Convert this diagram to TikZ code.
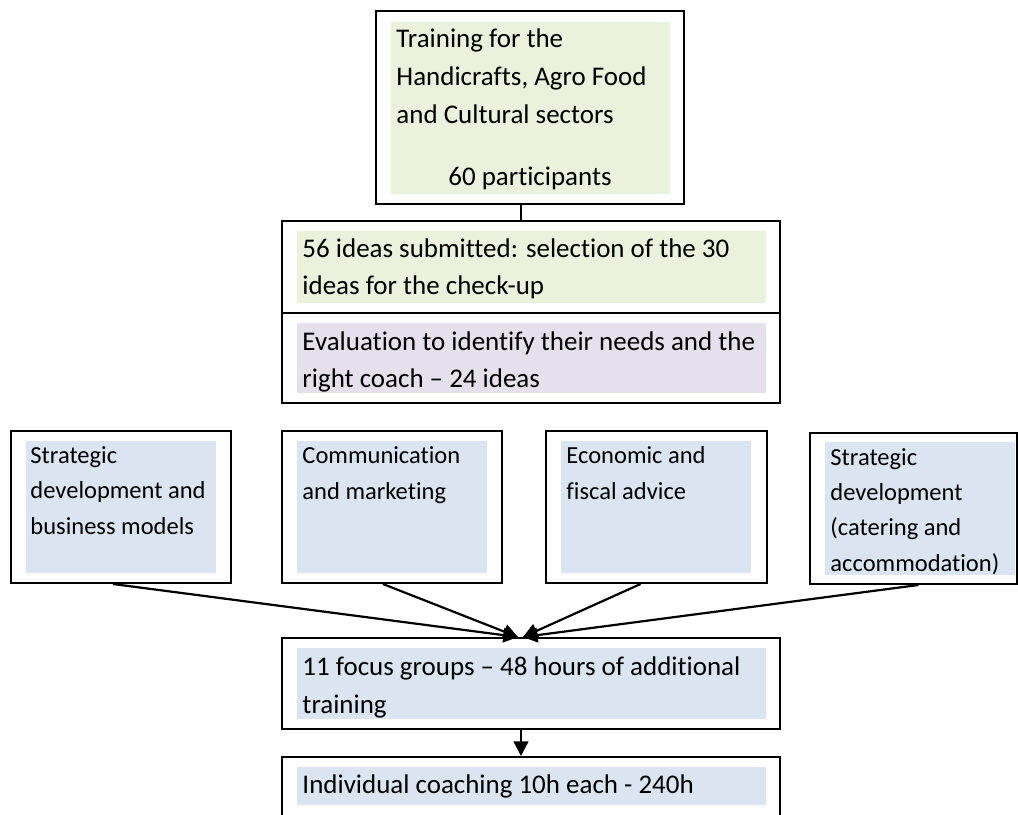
\documentclass[tikz,border=0pt]{standalone}
\usepackage{fontspec}
\setmainfont{Carlito}[RawFeature={-liga,-clig,-calt,-rlig,-dlig}]
\usetikzlibrary{arrows.meta,fit}
\definecolor{paleGreen}{HTML}{EAF1DD}
\definecolor{palePurple}{HTML}{E5E0EC}
\definecolor{paleBlue}{HTML}{DBE5F1}
\begin{document}
\begin{tikzpicture}[x=0.408pt,y=-0.408pt,
  frame/.style={draw,line width=0.8pt,inner sep=0pt,fit={#1}},
  txt/.style={anchor=base west,inner sep=0pt,align=left,font=\fontsize{11}{#1}\selectfont},
  small/.style={anchor=base west,inner sep=0pt,align=left,font=\fontsize{10}{14.3}\selectfont},
  flow/.style={-{Triangle[length=6pt,width=6pt]},line width=0.9pt}]
\useasboundingbox (0,0) rectangle (1018,814);

% Training block (text nodes sit on their last baseline)
\fill[paleGreen] (391,22) rectangle (670,194);
\node[frame={(376,11) (684,204)}] (train) {};
\node[txt=15.5] (trainTxt) at (396,123) {Training for the\\Handicrafts, Agro Food\\and Cultural sectors};
\node[anchor=base,inner sep=0pt,font=\fontsize{11}{15.5}\selectfont] (part) at (530,185) {60 participants};

% Selection and evaluation
\fill[paleGreen] (297,231) rectangle (766,303);
\fill[palePurple] (297,323) rectangle (766,393);
\node[frame={(282,221) (780,313)}] (ideas) {};
\node[frame={(282,313) (780,403)}] (eval) {};
\node[txt=14.7] (ideasTxt) at (302,294) {56 ideas submitted: selection of the 30\\ideas for the check-up};
\node[txt=15] (evalTxt) at (302,387) {Evaluation to identify their needs and the\\right coach – 24 ideas};
\coordinate (stem) at (521,0);
\draw[line width=0.6pt] (train.south -| stem) -- (ideas.north -| stem);

% Coaching areas
\fill[paleBlue] (26,441) rectangle (216,573);
\fill[paleBlue] (297,441) rectangle (487,573);
\fill[paleBlue] (561,441) rectangle (751,573);
\fill[paleBlue] (825,442) rectangle (1015,575);
\node[frame={(11,431) (231,583)}] (strat) {};
\node[frame={(282,431) (502,583)}] (comm) {};
\node[frame={(546,431) (767,583)}] (econ) {};
\node[frame={(810,433) (1017,584)}] (cater) {};
\node[small] (stratTxt) at (30,534) {Strategic\\development and\\business models};
\node[small] (commTxt) at (302,499) {Communication\\and marketing};
\node[small] (econTxt) at (566,499) {Economic and\\fiscal advice};
\node[small] (caterTxt) at (830,571) {Strategic\\development\\(catering and\\accommodation)};

% Focus groups and coaching
\fill[paleBlue] (297,648) rectangle (766,719);
\fill[paleBlue] (297,767) rectangle (766,805);
\node[frame={(282,638) (780,729)}] (focus) {};
\node[frame={(282,757) (780,840)}] (coach) {};
\node[txt=15.5] (focusTxt) at (302,713) {11 focus groups – 48 hours of additional\\training};
\node[txt=15] (coachTxt) at (302,793) {Individual coaching 10h each - 240h};

% Arrows
\draw[flow] ([xshift=-3.3pt]strat.south) -- ([xshift=-5.3pt]focus.north);
\draw[flow] ([xshift=-3.7pt]comm.south) -- ([xshift=-5.3pt]focus.north);
\draw[flow] ([xshift=-6.5pt]econ.south) -- ([xshift=-3.3pt]focus.north);
\draw[flow] ([xshift=2pt]cater.south) -- ([xshift=-3.3pt]focus.north);
\draw[flow] (focus.south -| stem) -- (coach.north -| stem);
\end{tikzpicture}
\end{document}
